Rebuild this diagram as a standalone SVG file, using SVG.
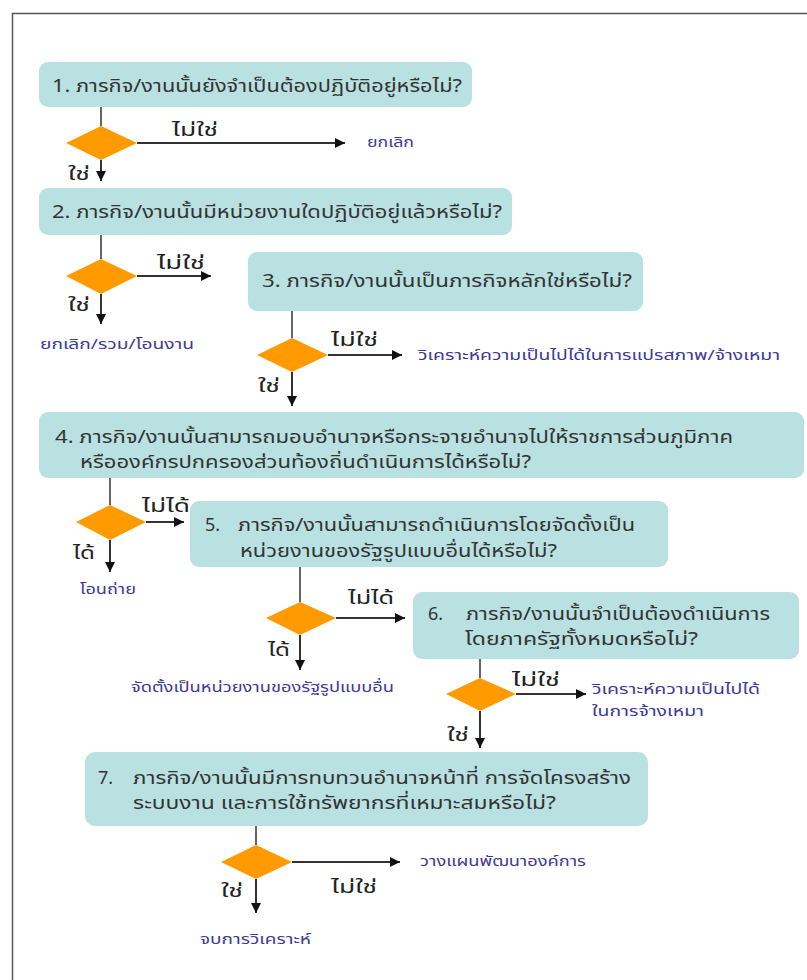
<svg xmlns="http://www.w3.org/2000/svg" width="807" height="980" viewBox="0 0 807 980">
<defs>
<marker id="ah" viewBox="0 0 10 10" refX="10" refY="5" markerWidth="10" markerHeight="10" markerUnits="userSpaceOnUse" orient="auto">
<path d="M0,0 L10,5 L0,10 z" fill="#111"/>
</marker>
<style>
.box{fill:#b9e1e2;}
.dia{fill:#ff9a00;}
.q{font-family:"Noto Sans Thai","Noto Sans","Liberation Sans",sans-serif;font-size:18px;fill:#333;}
.lb{font-family:"Noto Sans Thai","Noto Sans","Liberation Sans",sans-serif;font-size:17px;fill:#222;}
.out{font-family:"Noto Sans Thai","Noto Sans","Liberation Sans",sans-serif;font-size:14px;fill:#3a3a9a;}
.ln{stroke:#333;stroke-width:1.5;fill:none;}
.ar{stroke:#333;stroke-width:2;fill:none;marker-end:url(#ah);}
</style>
</defs>
<rect x="0" y="0" width="807" height="980" fill="#fff"/>
<rect x="12.5" y="13.5" width="810" height="990" fill="none" stroke="#555" stroke-width="1.5"/>

<g id="n1"><rect class="box" x="39" y="62" width="433" height="45" rx="9"/>
<text class="q" x="52" y="92" textLength="410" lengthAdjust="spacingAndGlyphs">1. ภารกิจ/งานนั้นยังจำเป็นต้องปฏิบัติอยู่หรือไม่?</text></g>
<g id="d1"><polygon class="dia" points="101,126 137,143 101,160 66,143"/></g>
<g id="o1"><text class="out" x="367" y="147" textLength="47" lengthAdjust="spacingAndGlyphs">ยกเลิก</text></g>

<g id="n2"><rect class="box" x="39" y="188" width="473" height="47" rx="9"/>
<text class="q" x="52" y="218" textLength="450" lengthAdjust="spacingAndGlyphs">2. ภารกิจ/งานนั้นมีหน่วยงานใดปฏิบัติอยู่แล้วหรือไม่?</text></g>
<g id="d2"><polygon class="dia" points="101,259 137,276 101,294 66,276"/></g>
<g id="o2"><text class="out" x="40" y="349" textLength="154" lengthAdjust="spacingAndGlyphs">ยกเลิก/รวม/โอนงาน</text></g>

<g id="n3"><rect class="box" x="248" y="252" width="395" height="59" rx="9"/>
<text class="q" x="262" y="287" textLength="370" lengthAdjust="spacingAndGlyphs">3. ภารกิจ/งานนั้นเป็นภารกิจหลักใช่หรือไม่?</text></g>
<g id="d3"><polygon class="dia" points="292,338 328,355 292,372 257,355"/></g>
<g id="o3"><text class="out" x="418" y="360" textLength="362" lengthAdjust="spacingAndGlyphs">วิเคราะห์ความเป็นไปได้ในการแปรสภาพ/จ้างเหมา</text></g>

<g id="n4"><rect class="box" x="39" y="412" width="765" height="66" rx="9"/>
<text class="q" x="55" y="443" textLength="678" lengthAdjust="spacingAndGlyphs">4. ภารกิจ/งานนั้นสามารถมอบอำนาจหรือกระจายอำนาจไปให้ราชการส่วนภูมิภาค</text>
<text class="q" x="80" y="468" textLength="451" lengthAdjust="spacingAndGlyphs">หรือองค์กรปกครองส่วนท้องถิ่นดำเนินการได้หรือไม่?</text></g>
<g id="d4"><polygon class="dia" points="110,505 146,522 110,540 76,522"/></g>
<g id="o4"><text class="out" x="80" y="594" textLength="56" lengthAdjust="spacingAndGlyphs">โอนถ่าย</text></g>

<g id="n5"><rect class="box" x="190" y="501" width="478" height="66" rx="9"/>
<text class="q" x="205" y="531">5.</text>
<text class="q" x="238" y="531" textLength="397" lengthAdjust="spacingAndGlyphs">ภารกิจ/งานนั้นสามารถดำเนินการโดยจัดตั้งเป็น</text>
<text class="q" x="240" y="557" textLength="317" lengthAdjust="spacingAndGlyphs">หน่วยงานของรัฐรูปแบบอื่นได้หรือไม่?</text></g>
<g id="d5"><polygon class="dia" points="300,602 336,618 300,635 266,618"/></g>
<g id="o5"><text class="out" x="131" y="692" textLength="263" lengthAdjust="spacingAndGlyphs">จัดตั้งเป็นหน่วยงานของรัฐรูปแบบอื่น</text></g>

<g id="n6"><rect class="box" x="413" y="592" width="386" height="67" rx="9"/>
<text class="q" x="428" y="620">6.</text>
<text class="q" x="466" y="620" textLength="304" lengthAdjust="spacingAndGlyphs">ภารกิจ/งานนั้นจำเป็นต้องดำเนินการ</text>
<text class="q" x="465" y="645" textLength="233" lengthAdjust="spacingAndGlyphs">โดยภาครัฐทั้งหมดหรือไม่?</text></g>
<g id="d6"><polygon class="dia" points="480,678 516,694 480,711 446,694"/></g>
<g id="o6"><text class="out" x="592" y="694" textLength="168" lengthAdjust="spacingAndGlyphs">วิเคราะห์ความเป็นไปได้</text>
<text class="out" x="592" y="716" textLength="112" lengthAdjust="spacingAndGlyphs">ในการจ้างเหมา</text></g>

<g id="n7"><rect class="box" x="85" y="752" width="563" height="74" rx="10"/>
<text class="q" x="98" y="784">7.</text>
<text class="q" x="133" y="784" textLength="498" lengthAdjust="spacingAndGlyphs">ภารกิจ/งานนั้นมีการทบทวนอำนาจหน้าที่ การจัดโครงสร้าง</text>
<text class="q" x="133" y="809" textLength="423" lengthAdjust="spacingAndGlyphs">ระบบงาน และการใช้ทรัพยากรที่เหมาะสมหรือไม่?</text></g>
<g id="d7"><polygon class="dia" points="256,845 292,862 256,879 221,862"/></g>
<g id="o7"><text class="out" x="420" y="866" textLength="166" lengthAdjust="spacingAndGlyphs">วางแผนพัฒนาองค์การ</text>
</g>
<g id="o8"><text class="out" x="200" y="944" textLength="111" lengthAdjust="spacingAndGlyphs">จบการวิเคราะห์</text></g>

<g id="connectors">
<line class="ln" x1="101" y1="107" x2="101" y2="126"/>
<line class="ar" x1="137" y1="143" x2="345" y2="143"/>
<line class="ar" x1="101" y1="160" x2="101" y2="181"/>
<text class="lb" x="172" y="136" textLength="46" lengthAdjust="spacingAndGlyphs">ไม่ใช่</text>
<text class="lb" x="68" y="180" textLength="22" lengthAdjust="spacingAndGlyphs">ใช่</text>

<line class="ln" x1="101" y1="235" x2="101" y2="259"/>
<line class="ar" x1="137" y1="276" x2="211" y2="276"/>
<line class="ar" x1="101" y1="294" x2="101" y2="324"/>
<text class="lb" x="157" y="269" textLength="48" lengthAdjust="spacingAndGlyphs">ไม่ใช่</text>
<text class="lb" x="68" y="311" textLength="22" lengthAdjust="spacingAndGlyphs">ใช่</text>

<line class="ln" x1="292" y1="311" x2="292" y2="338"/>
<line class="ar" x1="328" y1="355" x2="402" y2="355"/>
<line class="ar" x1="292" y1="372" x2="292" y2="406"/>
<text class="lb" x="331" y="346" textLength="47" lengthAdjust="spacingAndGlyphs">ไม่ใช่</text>
<text class="lb" x="258" y="392" textLength="22" lengthAdjust="spacingAndGlyphs">ใช่</text>

<line class="ln" x1="110" y1="478" x2="110" y2="505"/>
<line class="ar" x1="146" y1="522" x2="184" y2="522"/>
<line class="ar" x1="110" y1="540" x2="110" y2="572"/>
<text class="lb" x="142" y="512" textLength="48" lengthAdjust="spacingAndGlyphs">ไม่ได้</text>
<text class="lb" x="73" y="559" textLength="22" lengthAdjust="spacingAndGlyphs">ได้</text>

<line class="ln" x1="300" y1="567" x2="300" y2="602"/>
<line class="ar" x1="336" y1="618" x2="405" y2="618"/>
<line class="ar" x1="300" y1="635" x2="300" y2="670"/>
<text class="lb" x="348" y="604" textLength="46" lengthAdjust="spacingAndGlyphs">ไม่ได้</text>
<text class="lb" x="268" y="656" textLength="22" lengthAdjust="spacingAndGlyphs">ได้</text>

<line class="ln" x1="480" y1="659" x2="480" y2="678"/>
<line class="ar" x1="516" y1="694" x2="586" y2="694"/>
<line class="ar" x1="480" y1="711" x2="480" y2="748"/>
<text class="lb" x="512" y="686" textLength="48" lengthAdjust="spacingAndGlyphs">ไม่ใช่</text>
<text class="lb" x="447" y="741" textLength="22" lengthAdjust="spacingAndGlyphs">ใช่</text>

<line class="ln" x1="256" y1="826" x2="256" y2="845"/>
<line class="ar" x1="292" y1="862" x2="400" y2="862"/>
<line class="ar" x1="256" y1="879" x2="256" y2="913"/>
<text class="lb" x="331" y="893" textLength="46" lengthAdjust="spacingAndGlyphs">ไม่ใช่</text>
<text class="lb" x="221" y="897" textLength="22" lengthAdjust="spacingAndGlyphs">ใช่</text>
</g>
</svg>
